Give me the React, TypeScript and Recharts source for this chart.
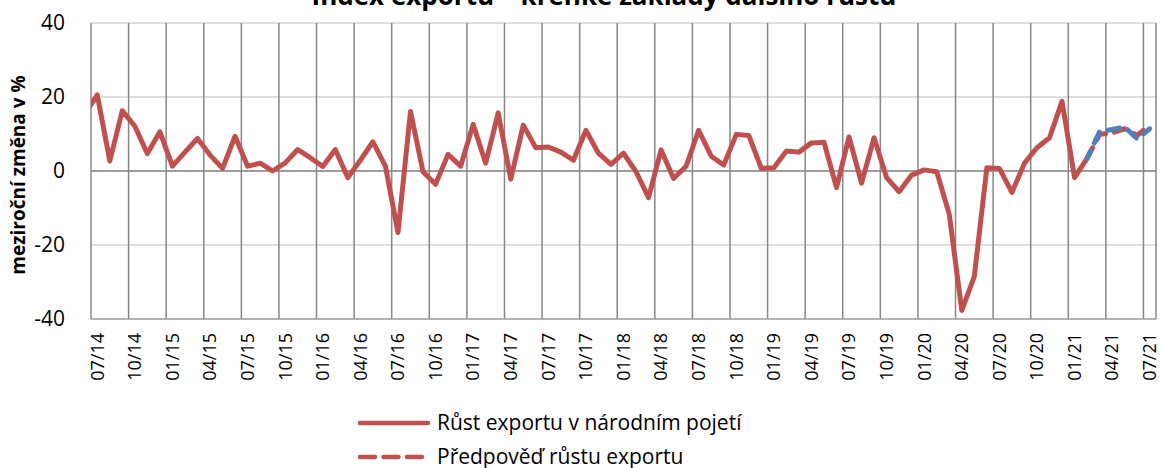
import { LineChart, Line, XAxis, YAxis, CartesianGrid, ReferenceLine } from 'recharts';

const FONT = '"Open Sans", sans-serif';
const RED = '#C0504D';
const BLUE = '#4F81BD';

const title = 'Index exportu – křehké základy dalšího růstu';
const yLabel = 'meziroční změna v %';

// quarterly tick labels, 07/14 .. 07/21
const tickLabels = [
  '07/14', '10/14', '01/15', '04/15', '07/15', '10/15', '01/16', '04/16', '07/16', '10/16',
  '01/17', '04/17', '07/17', '10/17', '01/18', '04/18', '07/18', '10/18', '01/19', '04/19',
  '07/19', '10/19', '01/20', '04/20', '07/20', '10/20', '01/21', '04/21', '07/21',
];
const yTicks = [-40, -20, 0, 20, 40];

// monthly y/y export growth, 06/14 .. 02/21 (06/14 lies just left of the plot)
const exportGrowth = [
  15.3,
  20.6, 2.7, 16.3, 12.1, 4.7, 10.6, 1.3, 5.1, 8.8, 4.3, 0.7, 9.4,
  1.3, 2.1, 0.0, 2.2, 5.8, 3.6, 1.2, 5.8, -1.8, 2.9, 7.9, 1.3,
  -16.6, 16.1, -0.2, -3.6, 4.5, 1.3, 12.6, 2.1, 15.7, -2.2, 12.4, 6.3,
  6.5, 5.1, 2.9, 11.0, 4.8, 1.8, 4.8, -0.2, -7.2, 5.7, -2.0, 1.3,
  11.0, 4.0, 1.6, 9.9, 9.6, 0.7, 0.9, 5.4, 5.1, 7.6, 7.8, -4.5,
  9.2, -3.3, 9.0, -1.8, -5.6, -1.1, 0.3, -0.2, -11.7, -37.7, -28.5, 0.9,
  0.7, -5.8, 2.1, 6.3, 9.0, 18.8, -1.8, 3.4,
];
// forecasts, 02/21 .. 07/21
const forecast = [3.4, 9.9, 10.3, 11.4, 9.6, 12.4];
const forecastAlt = [3.4, 10.6, 11.2, 11.9, 8.7, 11.4];
const forecastStart = 79; // months after 07/14

const legendItems = [
  { label: 'Růst exportu v národním pojetí', color: RED, dash: undefined },
  { label: 'Předpověď růstu exportu', color: RED, dash: '15 8.5' },
];

const rows = exportGrowth.map((v, i) => {
  const m = i - 1;
  const f = m - forecastStart;
  return {
    x: m + 0.5,
    actual: v as number | null,
    forecast: f >= 0 ? forecast[f] : null,
    forecastAlt: f >= 0 ? forecastAlt[f] : null,
  };
});
for (let f = 1; f < forecast.length; f++) {
  rows.push({ x: forecastStart + f + 0.5, actual: null, forecast: forecast[f], forecastAlt: forecastAlt[f] });
}

const MONTHS = 85;
const W = 1160;
const H = 468;
const margin = { top: 23, right: 4, bottom: 79, left: 0 };
const Y_AXIS_W = 91;
// labels sit in the middle of a month, gridlines on month boundaries
const halfMonth = (W - margin.left - margin.right - Y_AXIS_W) / MONTHS / 2;
const gridTicks = tickLabels.map((_, i) => i * 3);

function MonthTick({ x, y, payload }: any) {
  const label = tickLabels[Math.round(payload.value / 3)];
  const tx = x + halfMonth;
  const ty = y + 6;
  return (
    <text x={tx} y={ty} transform={`rotate(-90 ${tx} ${ty})`} dy="0.35em" textAnchor="end"
      fontSize={18} fill="#000" fontFamily={FONT}>
      {label}
    </text>
  );
}

function YTitle({ viewBox }: any) {
  const cx = viewBox.x + 18;
  const cy = viewBox.y + viewBox.height / 2 + 4;
  return (
    <text x={cx} y={cy} transform={`rotate(-90 ${cx} ${cy})`} dy="0.35em" textAnchor="middle"
      fontSize={19} fontWeight="bold" fill="#000" fontFamily={FONT}>
      {yLabel}
    </text>
  );
}

export default function App() {
  return (
    <div style={{ position: 'absolute', left: 0, top: 0, width: W, height: H, overflow: 'hidden', background: '#fff', fontFamily: FONT }}>
      <LineChart width={W} height={H} data={rows} margin={margin}>
        <CartesianGrid vertical={false} stroke="#d4d4d4" strokeWidth={1.5} />
        <CartesianGrid horizontal={false} stroke="#878787" strokeWidth={1.5} />
        <XAxis dataKey="x" type="number" domain={[0, MONTHS]} allowDataOverflow ticks={gridTicks} interval={0}
          tick={<MonthTick />} tickLine={false} axisLine={{ stroke: '#a6a6a6', strokeWidth: 1.5 }} height={70} />
        <YAxis domain={[-40, 40]} ticks={yTicks} interval={0} width={Y_AXIS_W} tickLine={false} axisLine={false}
          tickMargin={20} tick={{ fontSize: 21, fill: '#000', fontFamily: FONT }} label={<YTitle />} />
        <ReferenceLine y={0} stroke="#878787" strokeWidth={1.5} />
        <Line dataKey="actual" stroke={RED} strokeWidth={5} dot={false} connectNulls={false}
          strokeLinejoin="round" isAnimationActive={false} />
        <Line dataKey="forecast" stroke={RED} strokeWidth={5} strokeDasharray="12 9" strokeLinecap="round"
          dot={false} isAnimationActive={false} />
        <Line dataKey="forecastAlt" stroke={BLUE} strokeWidth={5} strokeDasharray="12 9" strokeDashoffset={4}
          strokeLinecap="round" dot={false} isAnimationActive={false} />
      </LineChart>
      <svg width={W} height={H} style={{ position: 'absolute', left: 0, top: 0, pointerEvents: 'none' }}>
        <text x={604} y={5} textAnchor="middle" fontSize={26} fontWeight="bold" fill="#000" fontFamily={FONT}>
          {title}
        </text>
        {legendItems.map((it, i) => {
          const y = 423 + i * 34;
          return (
            <g key={it.label}>
              <line x1={360} x2={428} y1={y} y2={y} stroke={it.color} strokeWidth={4.5}
                strokeDasharray={it.dash} strokeLinecap="round" />
              <text x={437} y={y} dy="0.35em" fontSize={21} fill="#000" fontFamily={FONT}>{it.label}</text>
            </g>
          );
        })}
      </svg>
    </div>
  );
}
